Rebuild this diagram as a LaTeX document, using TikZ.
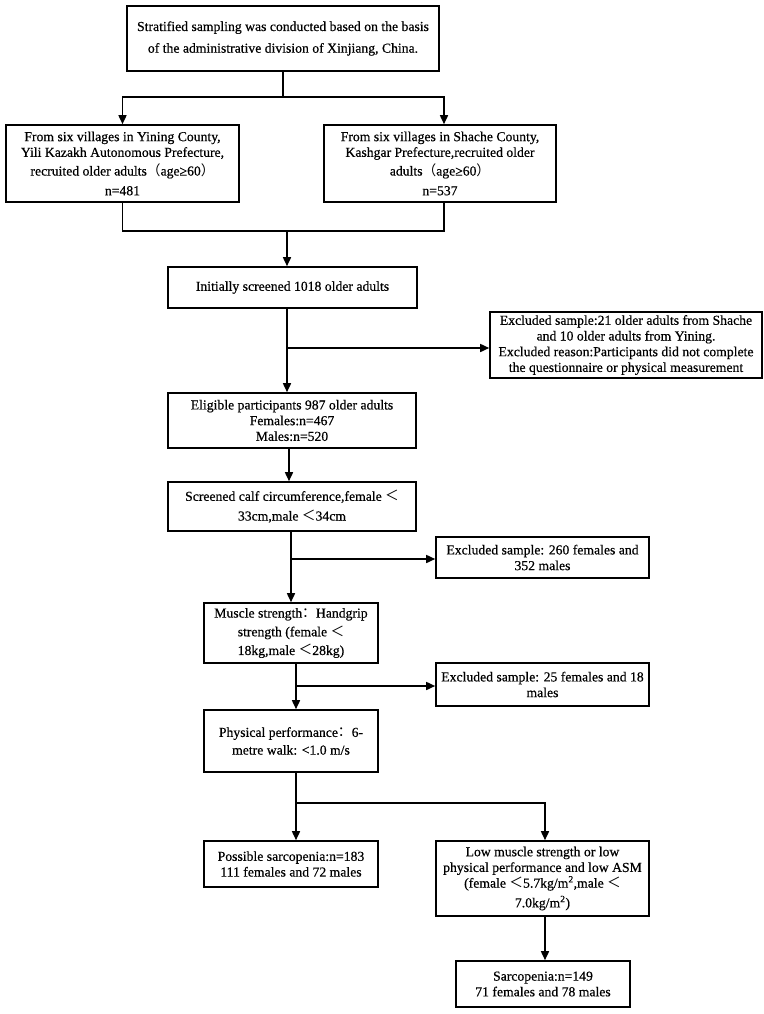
\documentclass[tikz,border=0pt]{standalone}
\usepackage{fontspec}
\setmainfont{Liberation Serif}[FakeBold=0.5]
\newfontfamily\cjk{Noto Sans CJK SC}
\usetikzlibrary{arrows.meta,calc}
\newcommand\fsz{\fontsize{13.7bp}{15.7bp}\selectfont}
\begin{document}
\begin{tikzpicture}[x=1bp,y=-1bp,
  box/.style={draw, line width=1.6bp, fill=white, inner sep=0pt, align=center, font=\fsz},
  ln/.style={line width=1.6bp},
  arr/.style={line width=1.6bp, -{Triangle[length=9bp,width=8bp]}}]
\useasboundingbox (0,0) rectangle (764,1014);

\node[box, minimum width=312bp, minimum height=65bp] (top) at (283,38.5)
  {Stratified sampling was conducted based on the basis\\[6bp] of the administrative division of Xinjiang, China.};
\node[box, minimum width=233bp, minimum height=77bp] (left) at (122.5,163.5)
  {From six villages in Yining County,\\ Yili Kazakh Autonomous Prefecture,\\[3bp] recruited older adults{\cjk （}age≥60{\cjk ）}\\[4bp] n=481};
\node[box, minimum width=232bp, minimum height=77bp] (right) at (440,163.5)
  {From six villages in Shache County,\\ Kashgar Prefecture,recruited older\\[3bp] adults{\cjk （}age≥60{\cjk ）}\\[4bp] n=537};
\node[box, minimum width=249bp, minimum height=41bp] (initial) at (292.5,287.5)
  {Initially screened 1018 older adults};
\node[box, minimum width=272bp, minimum height=66bp] (excl1) at (626,345)
  {Excluded sample:21 older adults from Shache\\ and 10 older adults from Yining.\\ Excluded reason:Participants did not complete\\ the questionnaire or physical measurement};
\node[box, minimum width=248bp, minimum height=55bp] (eligible) at (292,420.5)
  {Eligible participants 987 older adults\\ Females:n=467\\ Males:n=520};
\node[box, minimum width=248bp, minimum height=49bp] (calf) at (292,506.5)
  {Screened calf circumference,female {\cjk ＜}\\[4bp] 33cm,male {\cjk ＜}34cm};
\node[box, minimum width=213bp, minimum height=41bp] (excl260) at (542.5,557.5)
  {Excluded sample: 260 females and\\ 352 males};
\node[box, minimum width=174bp, minimum height=60bp] (handgrip) at (291,633)
  {Muscle strength{\cjk ：}Handgrip\\[3bp] strength (female {\cjk ＜}\\[3bp] 18kg,male {\cjk ＜}28kg)};
\node[box, minimum width=213bp, minimum height=43bp] (excl25) at (542.5,684.5)
  {Excluded sample: 25 females and 18\\ males};
\node[box, minimum width=174bp, minimum height=62bp] (physical) at (291,741)
  {Physical performance{\cjk ：}6-\\[2bp] metre walk: <1.0 m/s};
\node[box, minimum width=174bp, minimum height=46bp] (possible) at (291,864)
  {Possible sarcopenia:n=183\\ 111 females and 72 males};
\node[box, minimum width=213bp, minimum height=75bp] (low) at (542.5,878.5)
  {Low muscle strength or low\\ physical performance and low ASM\\ (female {\cjk ＜}5.7kg/m\textsuperscript{2},male {\cjk ＜}\\[4bp] 7.0kg/m\textsuperscript{2})};
\node[box, minimum width=174bp, minimum height=46bp] (sarc) at (543,984)
  {Sarcopenia:n=149\\ 71 females and 78 males};

% connectors
\coordinate (b1) at (283,97);
\coordinate (rn) at ($(right.north)+(4,0)$);
\coordinate (rs) at ($(right.south)+(4,0)$);
\draw[ln] (top.south) -- (b1);
\draw[arr] (b1) -| (left.north);
\draw[arr] (b1) -| (rn);
\coordinate (m1) at (287,231);
\draw[ln] (left.south) -- (left.south |- m1) -- (m1 -| rs) -- (rs);
\draw[arr] (m1) -- (m1 |- initial.north);
\draw[arr] (initial.south -| m1) -- (eligible.north -| m1);
\coordinate (e1) at (287,348);
\draw[arr] (e1) -- (e1 -| excl1.west);
\draw[arr] ($(eligible.south)+(-3,0)$) -- ($(calf.north)+(-3,0)$);
\draw[arr] (calf.south -| handgrip.north) -- (handgrip.north);
\coordinate (e2) at (291,559);
\draw[arr] (e2) -- (e2 -| excl260.west);
\draw[arr] ($(handgrip.south)+(5,0)$) -- ($(physical.north)+(5,0)$);
\coordinate (e3) at (296,686);
\draw[arr] (e3) -- (e3 -| excl25.west);
\draw[arr] ($(physical.south)+(5,0)$) -- ($(possible.north)+(5,0)$);
\coordinate (e4) at (296,803);
\draw[arr] (e4) -| ($(low.north)+(2.5,0)$);
\draw[arr] ($(low.south)+(2.5,0)$) -- ($(sarc.north)+(2,0)$);
\end{tikzpicture}
\end{document}
